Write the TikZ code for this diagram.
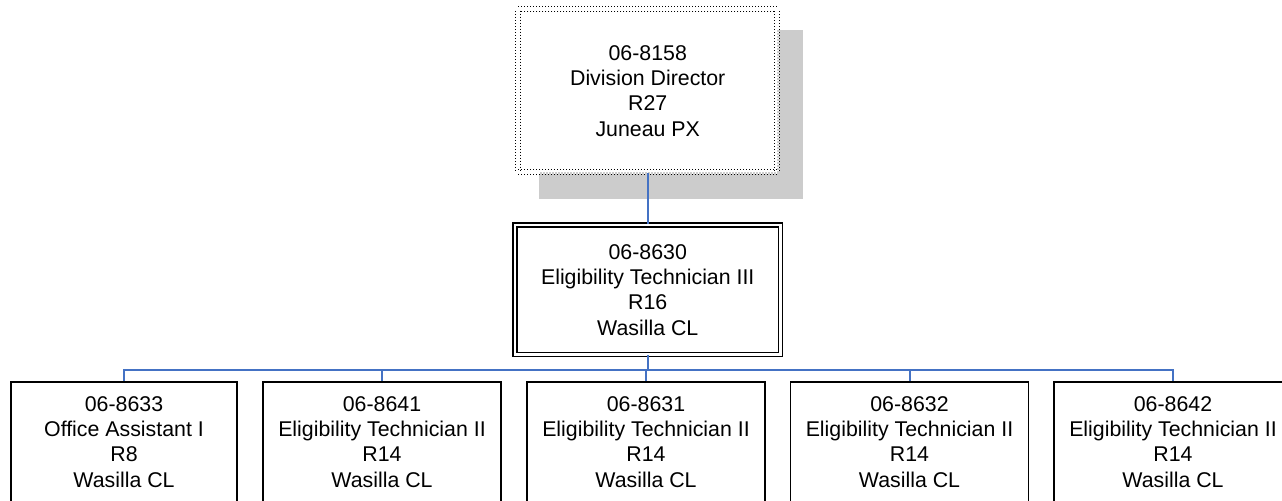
\documentclass[tikz,border=0pt]{standalone}
\usepackage{fontspec}
\setmainfont{Liberation Sans}
\definecolor{linkblue}{RGB}{68,114,196}

\tikzset{every picture/.style={line width=0.75pt}}
\tikzset{
	posbox/.style={draw, line width=1.1pt, fill=white, inner sep=0pt, align=center, minimum height=89.6pt, font=\fontsize{16}{19}\selectfont},
	link/.style={draw=linkblue, line width=1.5pt},
}

\begin{document}
\begin{tikzpicture}[x=0.75pt,y=0.75pt,yscale=-1,xscale=1]
	\useasboundingbox (0,0) rectangle (1282,500);

	%Shape: Rectangle [shadow]
	\node [fill=black!20, inner sep=0pt, minimum width=198pt, minimum height=126.75pt] (shade) at (671,114.5) {};
	% Text Node
	\node [posbox, line width=0.75pt, dash pattern=on 0.75pt off 1.5pt, double, double distance=3pt, minimum width=194.6pt, minimum height=122.6pt] (dir) at (647.75,90.75) {06-8158\\Division Director\\R27\\Juneau PX};
	% Text Node
	\node [posbox, double, double distance=1.9pt, minimum width=199pt, minimum height=97pt] (mid) at (647.75,289.75) {06-8630\\Eligibility Technician III\\R16\\Wasilla CL};

	% Text Node
	\node [posbox, minimum width=169.5pt] (oa) at (124,441.75) {06-8633\\Office Assistant I\\R8\\Wasilla CL};
	% Text Node
	\node [posbox, minimum width=178.5pt] (et1) at (382,441.75) {06-8641\\Eligibility Technician II\\R14\\Wasilla CL};
	% Text Node
	\node [posbox, minimum width=178.5pt] (et2) at (646,441.75) {06-8631\\Eligibility Technician II\\R14\\Wasilla CL};
	% Text Node
	\node [posbox, minimum width=178.5pt] (et3) at (909.5,441.75) {06-8632\\Eligibility Technician II\\R14\\Wasilla CL};
	% Text Node
	\node [posbox, minimum width=178.5pt] (et4) at (1173,441.75) {06-8642\\Eligibility Technician II\\R14\\Wasilla CL};

	%Straight Lines
	\draw [link] (dir.south) -- (mid.north);
	\foreach \c in {oa,et1,et2,et3,et4}
		\draw [link] (mid.south) -- ++(0,14.5) -| (\c.north);

\end{tikzpicture}
\end{document}
